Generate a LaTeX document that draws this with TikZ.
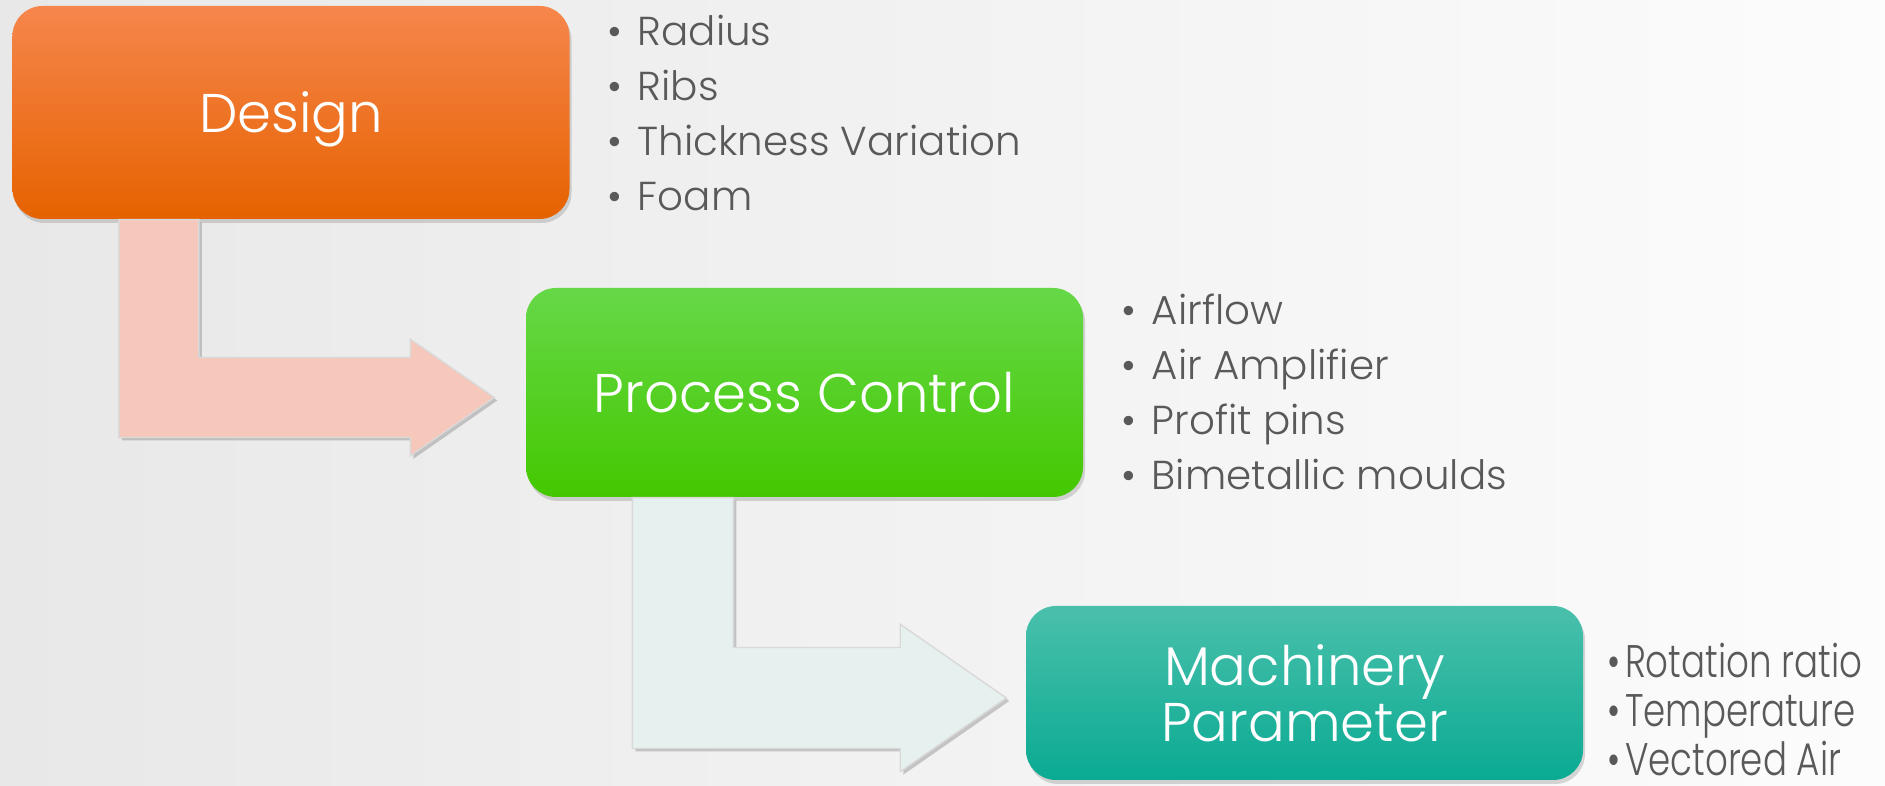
\documentclass[tikz,border=0pt]{standalone}
\usepackage{fontspec}
\usepackage{graphicx}
\setmainfont{Poppins}[UprightFont=* Light]
\usetikzlibrary{calc,shadows}
\definecolor{bgL}{RGB}{232,232,232}
\definecolor{bgR}{RGB}{252,252,252}
\definecolor{orT}{RGB}{246,134,76}
\definecolor{orM}{RGB}{250,115,6}
\definecolor{orB}{RGB}{230,98,0}
\definecolor{grT}{RGB}{102,216,72}
\definecolor{grM}{RGB}{80,214,10}
\definecolor{grB}{RGB}{68,200,0}
\definecolor{tlT}{RGB}{74,192,172}
\definecolor{tlM}{RGB}{22,186,162}
\definecolor{tlB}{RGB}{10,170,146}
\definecolor{pinkfill}{RGB}{246,200,188}
\definecolor{mintfill}{RGB}{230,240,238}
\definecolor{itemgray}{RGB}{89,89,89}
\tikzset{
  stage/.style={rounded corners=0.3cm, minimum width=5.57cm, text=white, align=center,
    font=\fontsize{15.5}{14.8}\selectfont, text depth=0pt,
    drop shadow={shadow xshift=0.02cm, shadow yshift=-0.04cm, opacity=0.3}},
  item/.style={text=itemgray, font=\fontsize{11.5}{14}\selectfont, inner sep=0pt, anchor=base west},
  bent/.style={draw=black!15, line width=0.4pt,
    drop shadow={shadow xshift=0.03cm, shadow yshift=-0.03cm, opacity=0.4}}
}
% 꺾인 화살표: [끝 간격] 시작 상자, 끝 상자, 굵기, 색
\newcommand{\bentarrow}[5][0.25]{%
  \draw[bent, fill=#5] let \p1=($(#2.south west)+(1.07,0)$), \p2=($(#3.west)+(-#1,-0.05)$) in
    (\x1,\y1) -- (\x1+#4,\y1) -- (\x1+#4,\y2+#4/2) -- (\x2-1.05*#4,\y2+#4/2)
    -- (\x2-1.05*#4,\y2+0.73*#4) -- (\x2,\y2) -- (\x2-1.05*#4,\y2-0.73*#4)
    -- (\x2-1.05*#4,\y2-#4/2) -- (\x1,\y2-#4/2) -- cycle;}
\begin{document}
\begin{tikzpicture}
  % 배경
  \shade[left color=bgL, right color=bgR] (0,0) rectangle (18.85,7.86);
  \useasboundingbox (0,0) rectangle (18.85,7.86);
  % 단계 상자
  \node[stage, minimum height=2.13cm, top color=orT, middle color=orM, bottom color=orB] (design) at (2.91,6.735) {Design};
  \node[stage, minimum height=2.09cm, top color=grT, middle color=grM, bottom color=grB] (process) at (8.045,3.935) {Process Control};
  \node[stage, minimum height=1.74cm, top color=tlT, middle color=tlM, bottom color=tlB] (machine) at (13.045,0.93) {Machinery\\Parameter};
  % 화살표
  \bentarrow[0.31]{design}{process}{0.8cm}{pinkfill}
  \bentarrow[0.19]{process}{machine}{1.01cm}{mintfill}
  % 항목 목록
  \foreach \t [count=\i] in {Radius, Ribs, Thickness Variation, Foam}
    \node[item] (dsg\i) at (6.07,{7.40-0.547*(\i-1)}) {\textbullet\hspace{0.38em}\t};
  \foreach \t [count=\i] in {Airflow, Air Amplifier, Profit pins, Bimetallic moulds}
    \node[item] (prc\i) at (11.21,{4.61-0.548*(\i-1)}) {\textbullet\hspace{0.38em}\t};
  \foreach \t [count=\i] in {Rotation ratio, Temperature, Vectored Air}
    \node[item, font=\fontsize{13}{14}\selectfont] (mch\i) at (16.07,{1.08-0.49*(\i-1)}) {\scalebox{0.78}[1]{\textbullet\hspace{0.12em}\t}};
\end{tikzpicture}
\end{document}
